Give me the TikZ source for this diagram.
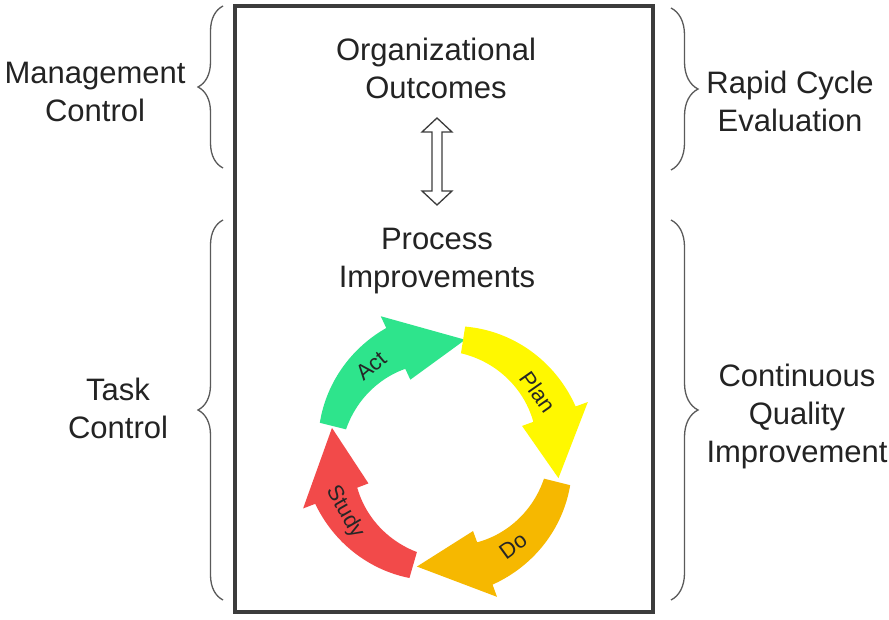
\documentclass[tikz,border=0pt]{standalone}
\usepackage{fontspec}
\setmainfont{Liberation Sans}
\usetikzlibrary{decorations.pathreplacing}
\definecolor{txt}{RGB}{35,35,35}
\definecolor{boxc}{RGB}{60,60,60}
\definecolor{bracec}{RGB}{90,90,90}
\definecolor{cgreen}{RGB}{46,228,140}
\definecolor{cyellow}{RGB}{255,248,0}
\definecolor{corange}{RGB}{246,184,0}
\definecolor{cred}{RGB}{242,74,74}
\newcommand\cycarrow[4]{%
  \fill[#4] plot[domain=#1:#2,samples=40] (\x:{129+10*((#1)-(\x))/((#1)-(#2))})
   -- (#2:152) -- (#3:116) -- (#2:82)
   -- plot[domain=#2:#1,samples=40] (\x:{102-8*((#1)-(\x))/((#1)-(#2))}) -- cycle;}
\tikzset{
  bigtext/.style={font=\fontsize{31}{38}\selectfont, text=txt, align=center, inner sep=0pt},
  cyctext/.style={font=\fontsize{22}{24}\selectfont, text=black!85, inner sep=0pt},
  bracedec/.style={draw=bracec, line width=1.3pt, decorate, decoration={brace, amplitude=#1}},
}
\begin{document}
\begin{tikzpicture}[x=1pt,y=-1pt]
\useasboundingbox (0,0) rectangle (889,620);
\fill[white] (0,0) rectangle (889,620);
% main box
\node[draw=boxc, line width=4pt, minimum width=418pt, minimum height=606pt, inner sep=0pt] (box) at (444,309) {};
% braces
\coordinate (lub) at (223,168); \coordinate (lut) at (223,6);
\coordinate (llb) at (223,600); \coordinate (llt) at (223,220);
\coordinate (rut) at (671,8); \coordinate (rub) at (671,170);
\coordinate (rlt) at (671,220); \coordinate (rlb) at (671,600);
\draw[bracedec=25pt] (lub) -- (lut);
\draw[bracedec=25pt] (llb) -- (llt);
\draw[bracedec=27pt] (rut) -- (rub);
\draw[bracedec=27pt] (rlt) -- (rlb);
% texts
\node[bigtext] (oo) at (436,68) {Organizational\\Outcomes};
\node[bigtext] (mc) at (95,92) {Management\\Control};
\node[bigtext] (rc) at (790,101) {Rapid Cycle\\Evaluation};
\node[bigtext] (pi) at (437,261) {Process\\Improvements};
\node[bigtext] (tc) at (118,408) {Task\\Control};
\node[bigtext] (cq) at (797,416) {Continuous\\Quality\\Improvement};
% hollow double arrow
\coordinate (dat) at (437,118); \coordinate (dab) at (437,205);
\draw[draw=boxc, line width=1.3pt, fill=white, line join=miter]
  (dat) -- ++(15,14) -- ++(-10,0) -- (442,191) -- ++(10,0) -- (dab)
  -- (422,191) -- ++(10,0) -- (432,132) -- ++(-10,0) -- cycle;
% cycle
\begin{scope}[shift={(445,454)}, yscale=-1]
  \cycarrow{166}{115}{80}{cgreen}
  \cycarrow{81}{20}{-12}{cyellow}
  \cycarrow{-14}{-70}{-104}{corange}
  \cycarrow{-106}{-159}{-193}{cred}
\end{scope}
\node[cyctext, rotate=40] (act) at (371,366) {Act};
\node[cyctext, rotate=-55] (plan) at (538,392) {Plan};
\node[cyctext, rotate=36] (do) at (513,546) {Do};
\node[cyctext, rotate=-60] (study) at (345,512) {Study};
\end{tikzpicture}
\end{document}
